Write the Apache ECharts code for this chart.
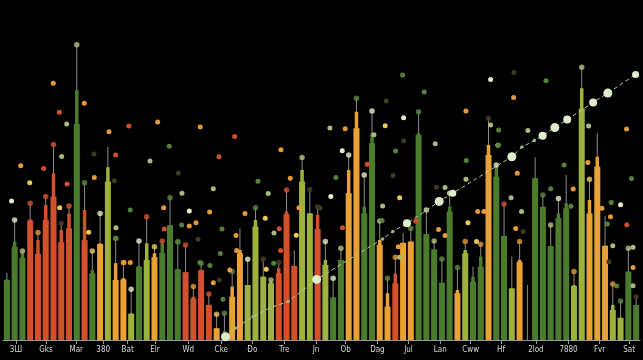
<!DOCTYPE html>
<html><head><meta charset="utf-8">
<script src="https://cdn.jsdelivr.net/npm/echarts@6/dist/echarts.min.js"></script>
<style>html,body{margin:0;padding:0;background:#000;}#c{width:643px;height:360px;}</style>
</head><body><div id="c"></div>
<script>
// ---- data ----
const barKind = ['dg','dg','dg','rd','rd','rd','rd','rd','rd','dg','rd','dg','or','ol','or','or','ol','dg','ol','or',
 'dg','dg','dg','rd','rd','rd','rd','or','dg','or','or','ol','ol','ol','ol','rd','rd','rd','ol','ol',
 'rd','ol','dg','dg','or','or','dg','dg','or','or','rd','or','or','dg','dg','dg','dg','dg','or','ol',
 'dg','dg','or','dg','dg','ol','or','ol','dg','dg','dg','dg','dg','ol','ol','or','or','or','ol','ol','dg','dg'];
const wideTop = [20,31.1,27.4,39.8,28.7,40,47.8,32.6,37.2,72,33.3,22.2,32,52.8,20,20.2,8.7,24.4,26.7,27.6,
 29.1,38.3,23.6,22.6,13.9,23.3,11.7,3.9,2,14.4,28.9,18.3,37.8,21.1,18.9,22.2,41.9,24.7,52.8,42.2,
 37,25,14.2,26.7,48.9,70.6,42.2,65.6,31.7,11.1,18.9,32.4,32.8,68.3,35.3,30.2,19.1,42.8,15.6,28.9,
 19.4,24.4,61.7,54.4,34.7,17.2,26.1,0,53.9,44.4,31.3,40.6,43.9,18,77.2,42.2,57.8,31.4,10,7.4,22.8,11.7];
const narrowTop = [20.2,32.8,28.9,40.2,33.3,45,55.6,36.7,42.2,83.3,43.3,23.3,32.2,57.6,25.6,20.6,8.9,24.7,32.2,28.9,
 32.2,38.3,23.6,22.6,14.4,23.3,11.7,3.9,3,17.8,30,18.3,40,21.1,19.4,23.9,42.8,24.7,56.7,42.2,
 41.7,26.7,14.2,26.7,56.7,76.1,44.4,68.9,33.3,15.6,22.2,32.4,32.8,68.9,35.3,30.2,19.1,44.4,16.7,30,
 21.1,27.8,65,57.8,34.7,17.2,26.7,0,53.9,44.4,31.3,42.2,45.6,18.3,83.9,46.7,61.1,31.4,11.7,7.4,22.8,11.7];
const stickTop = [22.4,40,29.7,45.6,35.8,47.8,65.2,38.9,44.7,98.4,52.4,29.7,42.2,64.4,33.9,25.8,16.9,33,41.1,31.1,
 33,47.4,32.8,31.7,17.8,25.6,15.3,8.6,8.9,22.8,37.2,26.9,44.1,27,20,25.8,50,29.8,60.8,50.2,
 44.4,32.8,20.6,30.6,61.7,80.6,55,76.3,39.7,20.6,27.6,35.6,37.2,76.1,43.3,33,27,48.9,24.2,32.8,
 24.4,31.9,73.9,58.3,45.3,27.8,32.8,18.3,60.8,48.3,38.3,47.2,55,22.8,90.9,53.6,68.9,41.4,18.7,13,30.6,14.4];
const stickDot = ['','c','l','r','o','r','r','d','r','l','g','y','c','','g','o','c','c','r','y',
 'r','g','g','r','o','g','r','y','g','g','','c','g','d','l','d','r','','l','d',
 'd','c','c','l','c','g','c','c','l','g','o','','g','g','c','l','g','c','g','o',
 '','o','d','c','r','','o','','','g','l','c','','o','l','y','','','o','g','l','d'];

const tickPos = [1.67,5.53,9.43,12.9,16.05,19.56,23.85,28.1,32.1,36.2,40.3,44.1,48.2,52.2,56.3,60.2,64.1,68.6,72.8,76.8,80.6];
const tickText = ['3Ш','Gks','Mar','380','Bat','Elr','Wd','Cke','Ðo','Tre','Jn','Ob','Dag','Jul','Lan','Cww','Hf','2lod','7880','Fvr','Sat'];

const dotsOrange = [[6.47,85.6],[10.46,78.9],[2.28,58.1],[13.64,69.4],[19.91,72.7],[25.39,71],[11.75,54.2],[15.57,25.8],[16.38,25.8],
 [20.68,44.1],[23.98,38],[24.84,39.1],[26.6,42.7],[27.07,19.1],[29.2,23.3],[29.99,34.8],[30.08,29.8],[31.15,42.2],[35.78,63.4],
 [36.98,53.9],[38.1,44.1],[44.05,70.4],[59.59,76.3],[65.73,80.8],[75.29,59.2],[80.27,70.3],[50.88,31.1],[56.07,36.8],[56.9,34.8],
 [61.1,42.8],[61.9,42.8],[66.2,55.6],[66.0,37.2],[73.4,50.3],[77.1,43.9],[78.2,41.1],[81.1,24.2]];
const dotsRed = [[7.25,75.9],[5.24,57.2],[14.5,61.7],[16.2,71.3],[8.24,52],[20.76,37],[27.8,61.1],[29.82,67.8],[35.56,37.1],
 [35.74,29.8],[46.89,58.6],[53.15,39.7],[80.3,38.4],[43.7,37.4]];
const dotsYellow = [[3.44,52.4],[7.3,44.1],[11.03,35.9],[37.75,34.9],[33.76,40.6],[33.89,23.6],[49.2,71.4],[51.06,47.4],[59.85,39.1],[60.96,32.8]];
const dotsCream = [[23.98,43],[43.67,63.1],[51.57,74.1],[62.77,86.8],[42.2,47.8],[79.5,45.1],[1.1,46.3]];
const dotsOlive = [[8.2,72],[7.55,61.2],[18.92,59.7],[14.54,37.4],[23.04,48.9],[27.07,50.4],[34.14,48.8],[34.88,35.7],[42.08,70.7],
 [47.75,68.4],[55.64,65.4],[62.77,71.7],[67.57,69.8],[75.38,71.3],[48.87,44.7],[56.9,50.8],[59.6,53.6],[65.4,47.4],[66.75,42.8],
 [63.7,64.9],[78.5,31.4],[81.1,30.9],[81.1,18.1],[51.06,27.6]];
const dotsGreen = [[21.4,64.6],[16.38,43.3],[14.54,33.8],[23.0,38.3],[22.52,32.6],[25.35,25.8],[26.64,24.8],[28.19,37],[27.97,28.8],
 [28.31,13.6],[32.82,52.9],[34.84,25.6],[51.44,88.3],[54.22,82.7],[50.54,63],[63.8,70],[63.8,65],[59.63,59.8],[72.24,58.3],
 [42.86,54.2],[70.5,50.4],[73.1,44.6],[78.3,45.8],[77.8,38.7],[79.0,18],[80.9,53.8],[48.8,39.8],[69.9,86.4]];
const dotsDim = [[11.71,62],[14.32,53.1],[65.77,89.2],[22.56,55.6],[25.1,33.6],[40.8,44],[27.84,20],[49.33,79.7],[51.57,66.4],
 [55.8,50.9],[50.2,54.8],[66.96,36.2],[78.0,26.1]];

const trendPos = [28.66,29.86,32.2,34.36,36.7,38.65,40.37,48.87,50.19,52.0,54.57,56.15,57.9,65.5,66.8,68.4,69.46,71.04,72.63,75.97,77.86,81.43];
const trendVal = [1.1,3.9,7.8,10.7,12.8,16.7,20.2,33.7,36.2,38.9,43.3,46.2,48.9,61.1,64.3,66.5,68.1,70.8,73.5,79.2,82.3,88.5];
const trendWeight = [3,1,1,1,1,1,3,1,1,2.5,1,3,2,3,1,1,2.5,3,2.5,2.5,3,2];

// ---- styles ----
const barColor = {dg:'#4b7b2d', ol:'#9cb23c', or:'#e7a134', rd:'#d2502b'};
const dotColor = {c:'#e2edc6', l:'#b3c488', r:'#d5532e', o:'#e49a3a', y:'#ecc85c', g:'#5d8a43', d:'#4a3c1e'};
const cats = barKind.map((_, i) => String(i));

const colored = (vals) => vals.map((v, i) => ({value: v, itemStyle: {color: barColor[barKind[i]]}}));
const stickDots = [];
stickTop.forEach((v, i) => { if (stickDot[i]) stickDots.push({value: [i, v], itemStyle: {color: dotColor[stickDot[i]]}}); });

const catAxis = (i) => ({type: 'category', data: cats, show: false, gridIndex: 0, boundaryGap: true});
const scat = (name, data, color, size) => ({
  type: 'scatter', name, xAxisIndex: 3, data, symbolSize: size, z: 4,
  itemStyle: {color, opacity: 1}, silent: true
});

const chart = echarts.init(document.getElementById('c'), null, {renderer: 'canvas'});
chart.setOption({
  backgroundColor: '#000',
  animation: false,
  grid: {left: 3, right: 3, top: 40, bottom: 20, containLabel: false},
  xAxis: [catAxis(0), catAxis(1), catAxis(2), {
    type: 'value', min: 0, max: 82, position: 'bottom',
    axisLine: {show: true, lineStyle: {color: '#9a9a9a', width: 1}},
    axisTick: {show: true, customValues: tickPos, length: 4, lineStyle: {color: '#9a9a9a'}},
    axisLabel: {show: true, customValues: tickPos, margin: 6, fontSize: 8, color: '#d6d6d6',
      fontFamily: "'Liberation Sans Narrow','DejaVu Sans Condensed','DejaVu Sans',sans-serif",
      formatter: (v) => { const k = tickPos.findIndex(t => Math.abs(t - v) < 1e-6); return k >= 0 ? tickText[k] : ''; }},
    splitLine: {show: false}
  }],
  yAxis: {type: 'value', min: 0, max: 100, show: false, splitLine: {show: false}},
  series: [
    {type: 'bar', xAxisIndex: 0, data: stickTop, barWidth: 1, itemStyle: {color: '#8c8c8c'}, z: 1, silent: true},
    {type: 'bar', xAxisIndex: 1, data: colored(narrowTop), barWidth: 3.5, z: 2, silent: true},
    {type: 'bar', xAxisIndex: 2, data: colored(wideTop), barWidth: 6, z: 2, silent: true},
    {type: 'scatter', xAxisIndex: 0, data: stickDots, symbolSize: 5.5, z: 3, silent: true},
    scat('orange', dotsOrange, '#e49a3a', 5),
    scat('red', dotsRed, '#cf4f2c', 5),
    scat('yellow', dotsYellow, '#ecc85c', 5),
    scat('cream', dotsCream, '#e2edc6', 5),
    scat('olive', dotsOlive, '#a9bb7c', 5),
    scat('green', dotsGreen, '#56803e', 5),
    scat('dim', dotsDim, '#3d3a1e', 5),
    {type: 'line', xAxisIndex: 3, z: 5, silent: true,
     data: trendPos.map((p, i) => ({value: [p, trendVal[i], trendWeight[i]],
        symbolSize: trendWeight[i] >= 3 ? 9 : trendWeight[i] >= 2.5 ? 8 : trendWeight[i] >= 2 ? 7 : 3.5,
        itemStyle: {color: trendWeight[i] >= 2 ? '#dfeccb' : '#9fb87a'}})),
     symbol: 'circle', showSymbol: true,
     lineStyle: {color: '#b9c9a2', width: 1, type: [4, 3]}}
  ]
});
</script></body></html>
